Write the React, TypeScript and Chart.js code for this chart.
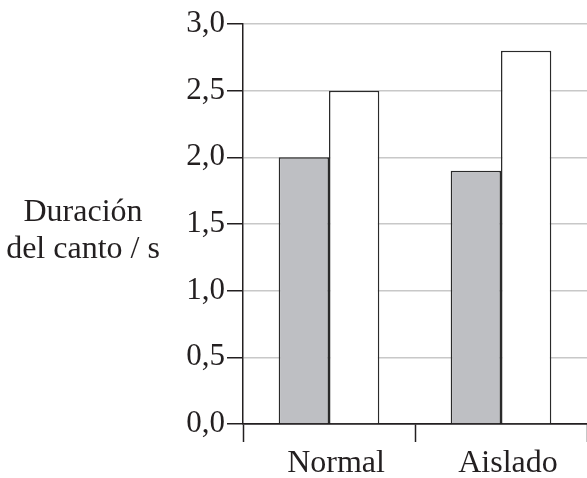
import React, { useEffect, useRef } from "react";
import { Chart, registerables } from "chart.js";

Chart.register(...registerables);

const categories = ["Normal", "Aislado"];
const seriesGray = [2.0, 1.9];
const seriesWhite = [2.5, 2.8];
const yTitleLines = ["Duración", "del canto / s"];

const FONT = "'Liberation Serif', 'Times New Roman', serif";
const TEXT = "#231f20";

const yTitlePlugin = {
  id: "yTitle",
  afterDraw(chart: any) {
    const ctx = chart.ctx;
    ctx.save();
    ctx.font = `32px ${FONT}`;
    ctx.fillStyle = TEXT;
    ctx.textAlign = "center";
    ctx.textBaseline = "alphabetic";
    ctx.fillText(yTitleLines[0], 83, 221);
    ctx.fillText(yTitleLines[1], 83, 258);
    ctx.restore();
  },
};

export default function App() {
  const ref = useRef<HTMLCanvasElement>(null);
  useEffect(() => {
    if (!ref.current) return;
    const chart = new Chart(ref.current, {
      type: "bar",
      data: {
        labels: categories,
        datasets: [
          {
            data: seriesGray,
            backgroundColor: "#bebfc3",
            borderColor: "#2a2a2a",
            borderWidth: 1.5,
            barPercentage: 1,
            categoryPercentage: 0.585,
          },
          {
            data: seriesWhite,
            backgroundColor: "#ffffff",
            borderColor: "#2a2a2a",
            borderWidth: 1.5,
            barPercentage: 1,
            categoryPercentage: 0.585,
          },
        ],
      },
      options: {
        animation: false,
        responsive: false,
        maintainAspectRatio: false,
        layout: { padding: { top: 24, left: 0, right: 0, bottom: 0 } },
        plugins: { legend: { display: false }, tooltip: { enabled: false } },
        scales: {
          x: {
            grid: {
              display: true,
              drawOnChartArea: false,
              drawTicks: true,
              offset: true,
              tickLength: 18,
              tickColor: "#231f20",
              tickWidth: 1.5,
            },
            border: { display: true, color: "#231f20", width: 1.5 },
            ticks: {
              color: TEXT,
              font: { family: FONT, size: 32 },
              padding: 2,
              labelOffset: 7,
            },
            afterFit: (s: any) => {
              s.height = 478 - 424;
            },
          },
          y: {
            min: 0,
            max: 3,
            ticks: {
              stepSize: 0.5,
              color: TEXT,
              font: { family: FONT, size: 31 },
              padding: 2,
              callback: (v: any) => Number(v).toFixed(1).replace(".", ","),
            },
            grid: {
              color: (c: any) => (c.tick && c.tick.value === 0 ? "#231f20" : "#c8c8c8"),
              lineWidth: 1.5,
              tickLength: 16,
              tickColor: "#231f20",
              tickWidth: 1.5,
            },
            border: { display: true, color: "#231f20", width: 1.5 },
            afterFit: (s: any) => {
              s.width = 243;
            },
          },
        },
      },
      plugins: [yTitlePlugin],
    });
    return () => chart.destroy();
  }, []);
  return (
    <div style={{ position: "fixed", left: 0, top: 0, width: 587, height: 478, background: "#fff" }}>
      <canvas ref={ref} width={587} height={478} style={{ width: 587, height: 478 }} />
    </div>
  );
}
